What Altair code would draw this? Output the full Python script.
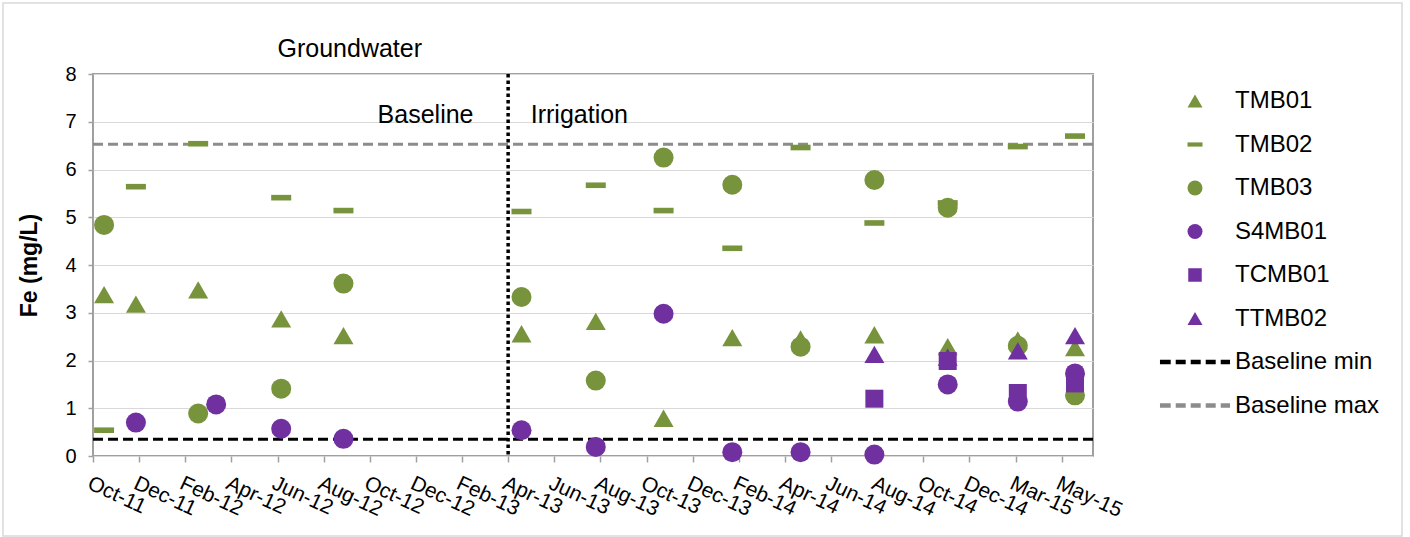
import json
import altair as alt
import pandas as pd

FONT = "Liberation Sans"
GREEN = "#77933C"
PURPLE = "#7030A0"

tick_labels = ["Oct-11", "Dec-11", "Feb-12", "Apr-12", "Jun-12", "Aug-12", "Oct-12",
               "Dec-12", "Feb-13", "Apr-13", "Jun-13", "Aug-13", "Oct-13", "Dec-13",
               "Feb-14", "Apr-14", "Jun-14", "Aug-14", "Oct-14", "Dec-14", "Mar-15", "May-15"]

# sampling positions, in units of the (two-monthly) tick spacing
tmb01_t = [0.24, 0.93, 2.28, 4.08, 5.43, 9.29, 10.90, 12.37, 13.86, 15.34, 16.94, 18.53, 20.05, 21.29]
tmb01_fe = [3.38, 3.18, 3.48, 2.87, 2.52, 2.56, 2.82, 0.79, 2.48, 2.45, 2.54, 2.29, 2.43, 2.27]
tmb02_t = [0.24, 0.93, 2.28, 4.08, 5.43, 9.29, 10.90, 12.37, 13.86, 15.34, 16.94, 18.53, 20.05, 21.29]
tmb02_fe = [0.54, 5.64, 6.54, 5.41, 5.14, 5.12, 5.67, 5.14, 4.35, 6.46, 4.88, 5.30, 6.48, 6.70]
tmb03_t = [0.24, 2.28, 4.08, 5.43, 9.29, 10.90, 12.37, 13.86, 15.34, 16.94, 18.53, 20.05, 21.29]
tmb03_fe = [4.84, 0.89, 1.41, 3.61, 3.33, 1.58, 6.25, 5.68, 2.29, 5.78, 5.20, 2.31, 1.27]
s4mb01_t = [0.93, 2.67, 4.08, 5.43, 9.29, 10.90, 12.37, 13.86, 15.34, 16.94, 18.53, 20.05, 21.29]
s4mb01_fe = [0.70, 1.08, 0.57, 0.36, 0.54, 0.19, 2.98, 0.08, 0.08, 0.03, 1.50, 1.14, 1.73]
tcmb01_t = [16.94, 18.53, 20.05, 21.29]
tcmb01_fe = [1.20, 1.99, 1.32, 1.52]
ttmb02_t = [16.94, 18.53, 20.05, 21.29]
ttmb02_fe = [2.13, 2.07, 2.20, 2.52]

baseline_min = 0.35
baseline_max = 6.53
irrigation_start = 9.0

annot_text = ["Groundwater", "Baseline", "Irrigation"]
annot_t = [4.0, 6.17, 9.49]
annot_fe = [8.36, 6.98, 6.98]

series_names = ["TMB01", "TMB02", "TMB03", "S4MB01", "TCMB01", "TTMB02"]
line_names = ["Baseline min", "Baseline max"]

DASH = "M-1,-0.28H1V0.28H-1Z"
SQUARE = "M-0.9,-0.9H0.9V0.9H-0.9Z"
LINE_SYM = ("M-4.67,-0.3H-3.24V0.3H-4.67Z M-2.57,-0.3H-1.24V0.3H-2.57Z "
            "M-0.57,-0.3H0.76V0.3H-0.57Z M1.43,-0.3H2.76V0.3H1.43Z M3.43,-0.3H4.67V0.3H3.43Z")

domain8 = series_names + line_names
colors8 = [GREEN, GREEN, GREEN, PURPLE, PURPLE, PURPLE, "#000000", "#8C8C8C"]
shapes8 = ["triangle-up", DASH, "circle", "circle", SQUARE, "triangle-up", LINE_SYM, LINE_SYM]

rows = []
for name, ts, fes in [("TMB01", tmb01_t, tmb01_fe), ("TMB02", tmb02_t, tmb02_fe),
                      ("TMB03", tmb03_t, tmb03_fe), ("S4MB01", s4mb01_t, s4mb01_fe),
                      ("TCMB01", tcmb01_t, tcmb01_fe), ("TTMB02", ttmb02_t, ttmb02_fe)]:
    for t, fe in zip(ts, fes):
        rows.append({"series": name, "t": t, "fe": fe})
points_df = pd.DataFrame(rows)
min_df = pd.DataFrame({"fe": [baseline_min]})
max_df = pd.DataFrame({"fe": [baseline_max]})
vline_df = pd.DataFrame({"t": [irrigation_start]})
annot_df = pd.DataFrame({"text": annot_text, "t": annot_t, "fe": annot_fe})
frame_df = pd.DataFrame({"a": [0]})

xscale = alt.Scale(domain=[0, 21.68], nice=False, zero=False)
yscale = alt.Scale(domain=[0, 8], nice=False)
cscale = alt.Scale(domain=domain8, range=colors8)
sscale = alt.Scale(domain=domain8, range=shapes8)

label_expr = json.dumps(tick_labels) + "[round(datum.value)]"

legend = alt.Legend(title=None, orient="none", legendX=1090, legendY=15, padding=0,
                    labelFontSize=24, labelFont=FONT, labelColor="black", labelOffset=28,
                    labelLimit=300, symbolSize=225, symbolStrokeWidth=0, symbolOpacity=1,
                    rowPadding=19.5)

x_axis = alt.Axis(values=list(range(len(tick_labels))), labelExpr=label_expr, labelAngle=25,
                  labelAlign="left", labelBaseline="top", labelFontSize=21, labelPadding=10,
                  labelOverlap=False, labelFont=FONT, labelColor="black",
                  tickSize=6, tickColor="#A0A0A0", tickWidth=1.5, grid=False, domain=False, title=None)
y_axis = alt.Axis(values=list(range(9)), grid=True, gridColor="#D9D9D9", gridWidth=1,
                  tickSize=5, tickColor="#A0A0A0", tickWidth=1.5, labelPadding=12, labelFontSize=20,
                  labelFont=FONT, labelColor="black", domain=False,
                  title="Fe (mg/L)", titleFont=FONT, titleFontSize=23, titleFontWeight="bold",
                  titleColor="black", titleX=-57, titleY=191, titleAngle=270,
                  titleAlign="center", titleBaseline="alphabetic")

X = alt.X("t:Q", scale=xscale, axis=x_axis)
Y = alt.Y("fe:Q", scale=yscale, axis=y_axis)

frame = alt.Chart(frame_df).mark_rect(fillOpacity=0, stroke="#D9D9D9", strokeWidth=1.5).encode(
    x=alt.value(-90), x2=alt.value(1309), y=alt.value(-71), y2=alt.value(462))

min_line = alt.Chart(min_df).mark_rule(strokeDash=[10, 5], strokeWidth=3, color="#000000").encode(y=Y)
max_line = alt.Chart(max_df).mark_rule(strokeDash=[10, 5], strokeWidth=3, color="#8C8C8C").encode(y=Y)

vline = alt.Chart(vline_df).mark_rule(strokeDash=[3.5, 3], strokeWidth=3.5, color="black").encode(x=X)

points = alt.Chart(points_df).mark_point(filled=True, size=400, opacity=1, strokeWidth=0).encode(
    x=X, y=Y,
    color=alt.Color("series:N", scale=cscale, legend=legend),
    shape=alt.Shape("series:N", scale=sscale, legend=legend),
)

annots = alt.Chart(annot_df).mark_text(align="left", baseline="alphabetic", fontSize=25,
                                       font=FONT, color="black").encode(
    x=X, y=Y, text="text:N")

chart = alt.layer(frame, min_line, max_line, vline, points, annots).properties(
    width=1000, height=382,
    autosize=alt.AutoSizeParams(type="none"),
    padding={"left": 93, "top": 74, "right": 317, "bottom": 81},
    background="white",
).configure_view(stroke="#A0A0A0", strokeWidth=2)

chart.save("out.html", embed_options={"renderer": "svg", "actions": False})
